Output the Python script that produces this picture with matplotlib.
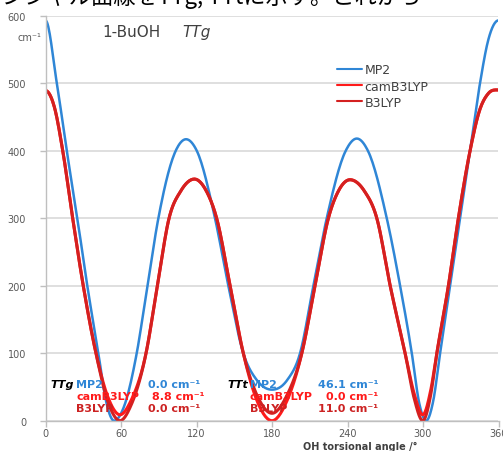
import matplotlib
matplotlib.use("Agg")
import matplotlib.pyplot as plt
import numpy as np

# relative energies (cm-1) vs OH torsion angle (deg)
mp2_angle = [0, 9, 16.9, 25.3, 33.2, 42, 48, 54.5, 62, 72.5, 81, 89.7,
             103.5, 111.7, 120.2, 134.7, 145.3, 157.2, 168, 180, 192,
             202.3, 212.9, 223.5, 238.6, 247.4, 256.2, 271.2, 281.8, 291.1,
             297, 302.5, 308, 313.6, 321.5, 329.5, 337.4, 345.3, 352, 360]
mp2 = [593, 500, 400, 300, 200, 100, 30, 0, 19, 100, 200, 300,
       400, 417, 400, 300, 200, 100, 60, 46, 60,
       100, 200, 300, 400, 418, 400, 300, 200, 100,
       26, 0, 28, 100, 200, 300, 400, 500, 565, 593]

red_angle = [0, 7, 13.7, 21.6, 30, 40.1, 50, 59.2, 68, 79.9, 88.9, 98.2,
             107.4, 118.3, 127.9, 136, 146.7, 157.2, 168, 180, 192, 203.7,
             214.2, 224.8, 232.7, 242, 253.5, 263.3, 273.9, 285.8, 293,
             299.8, 306, 311, 320.2, 328.1, 337.4, 345, 352, 360]
camb3lyp = [489, 465, 400, 300, 200, 100, 33, 8.8, 30, 100, 200, 300,
            340, 358, 340, 300, 200, 100, 30, 0, 30, 100,
            200, 300, 340, 357, 340, 300, 200, 100, 40,
            8.8, 44, 100, 200, 300, 400, 460, 485, 490]
b3lyp = [489, 465, 400, 300, 200, 100, 26, 0, 23, 100, 200, 300,
         340, 358, 340, 300, 200, 100, 38, 11, 38, 100,
         200, 300, 340, 357, 340, 300, 200, 100, 33,
         0, 37, 100, 200, 300, 400, 460, 485, 490]

series_names = ["MP2", "camB3LYP", "B3LYP"]
series_colors = ["#2f86d6", "#ff1a1a", "#d42020"]

# conformer energies printed in the lower part of the chart
conformers = ["TTg", "TTt"]
ttg_energies = ["0.0", "8.8", "0.0"]
ttt_energies = ["46.1", "0.0", "11.0"]

x_ticks = [0, 60, 120, 180, 240, 300, 360]
y_ticks = [0, 100, 200, 300, 400, 500, 600]

###

def smooth(xs, ys, n=16):
    # smoothed line through the read points, flat at the turning points
    xs = np.asarray(xs, float)
    ys = np.asarray(ys, float)
    h = np.diff(xs)
    d = np.diff(ys) / h
    m = np.zeros_like(ys)
    for i in range(1, len(xs) - 1):
        if d[i - 1] * d[i] > 0:
            m[i] = (h[i] * d[i - 1] + h[i - 1] * d[i]) / (h[i - 1] + h[i])
    out_x = []
    out_y = []
    for i in range(len(xs) - 1):
        t = np.linspace(0, 1, n, endpoint=False)
        h00 = 2 * t**3 - 3 * t**2 + 1
        h10 = t**3 - 2 * t**2 + t
        h01 = -2 * t**3 + 3 * t**2
        h11 = t**3 - t**2
        out_x.extend(xs[i] + t * h[i])
        out_y.extend(h00 * ys[i] + h10 * h[i] * m[i] + h01 * ys[i + 1]
                     + h11 * h[i] * m[i + 1])
    out_x.append(xs[-1])
    out_y.append(ys[-1])
    return out_x, out_y


fig = plt.figure(figsize=(5.03, 4.52), dpi=100)
ax = fig.add_axes([45.5 / 503, 30.3 / 452, 453 / 503, 405 / 452])

data = [(mp2_angle, mp2), (red_angle, camb3lyp), (red_angle, b3lyp)]
widths = [1.8, 2.2, 2.2]
for name, (xa, vals), col, lw in zip(series_names, data, series_colors,
                                     widths):
    sx, sy = smooth(xa, vals)
    ax.plot(sx, sy, color=col, lw=lw, label=name, solid_capstyle="round")

ax.set_xlim(0, 360)
ax.set_ylim(0, 600)
ax.set_xticks(x_ticks)
ax.set_yticks(y_ticks)
ax.yaxis.grid(True, color="#d9d9d9", lw=1.2)
ax.set_axisbelow(True)
for side in ["top", "right"]:
    ax.spines[side].set_visible(False)
for side in ["left", "bottom"]:
    ax.spines[side].set_color("#bfbfbf")
    ax.spines[side].set_linewidth(1.0)
ax.tick_params(axis="both", colors="#bfbfbf", labelcolor="#595959",
               labelsize=7, length=4, width=1.0)
ax.tick_params(axis="y", pad=10)
ax.tick_params(axis="x", pad=1.5)

leg = ax.legend(loc="upper left", bbox_to_anchor=(0.644, 0.882),
                frameon=False, fontsize=9, handlelength=2.0,
                handletextpad=0.2, labelspacing=0.25, borderpad=0,
                borderaxespad=0)
for t in leg.get_texts():
    t.set_color("#404040")
for ln in leg.get_lines():
    ln.set_linewidth(1.5)

ax.text(45, 577, "1-BuOH", fontsize=11, color="#404040", va="center")
ax.text(108.5, 577, "TTg", fontsize=11, color="#404040", va="center",
        style="italic")

fig.text(17 / 503, 1 - 38 / 452, "cm⁻¹", fontsize=7, color="#595959",
         va="center")
fig.text(360 / 503, 1 - 447 / 452, "OH torsional angle /°", fontsize=7,
         color="#404040", fontweight="bold", ha="center", va="center")

# conformer energy boxes
rows_y = [54, 37, 19]
text_colors = ["#2f86d6", "#ff1a1a", "#cc2222"]
groups = [(3.6, 24.5, [81.5, 84.5, 81.5], ttg_energies),
          (145, 162.5, [216.6, 223, 216.6], ttt_energies)]
for conf, (xc, xn, xe, energies) in zip(conformers, groups):
    ax.text(xc, rows_y[0], conf, fontsize=8, fontweight="bold",
            style="italic", color="black", va="center")
    for name, e, ex, ry, col in zip(series_names, energies, xe, rows_y,
                                    text_colors):
        ax.text(xn, ry, name, fontsize=8, fontweight="bold", color=col,
                va="center")
        ax.text(ex, ry, e + " cm⁻¹", fontsize=8, fontweight="bold",
                color=col, va="center")

# cropped heading from the page above the chart
fig.text(0.004, 1 - 9 / 452, "ンシャル曲線をTTg, TTtに示す。これから",
         fontsize=16, color="black", va="bottom",
         family=["Noto Sans CJK JP", "DejaVu Sans"])

fig.savefig("out.png", dpi=100)
